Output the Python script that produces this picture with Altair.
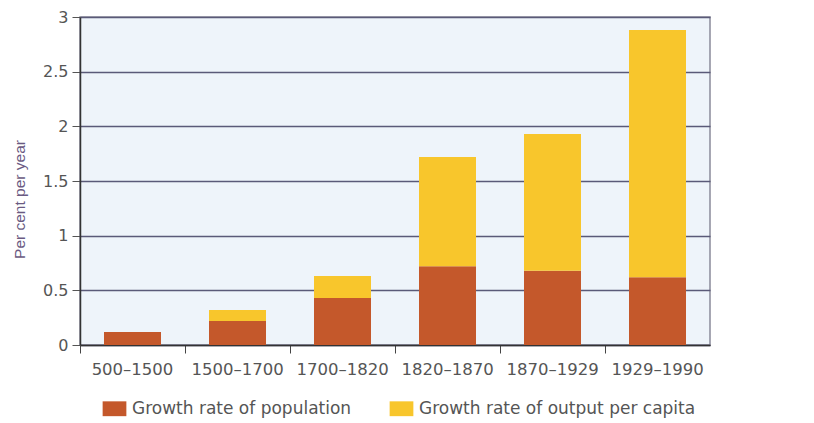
import altair as alt
import pandas as pd

periods = ["500–1500", "1500–1700", "1700–1820", "1820–1870", "1870–1929", "1929–1990"]
population = [0.12, 0.22, 0.43, 0.72, 0.68, 0.62]
output_pc = [0.0, 0.10, 0.20, 1.00, 1.25, 2.26]
series = ["Growth rate of population", "Growth rate of output per capita"]
colors = ["#C4582B", "#F8C62C"]

rows = []
for p, a, b in zip(periods, population, output_pc):
    rows.append({"period": p, "series": series[0], "value": a, "ord": 0})
    rows.append({"period": p, "series": series[1], "value": b, "ord": 1})
df = pd.DataFrame(rows)

FONT = "DejaVu Sans"
TFONT = "Liberation Sans"

chart = alt.Chart(df).mark_bar(size=57).encode(
    x=alt.X("period:N", sort=periods, title=None,
            scale=alt.Scale(paddingInner=0, paddingOuter=0),
            axis=alt.Axis(labelAngle=0, bandPosition=0, tickSize=8, tickColor="#444",
                          domainColor="#333", domainWidth=1.5, labelFontSize=16.5,
                          labelColor="#555", labelFont=FONT, labelPadding=8, grid=False)),
    y=alt.Y("value:Q", stack="zero", title="Per cent per year",
            scale=alt.Scale(domain=[0, 3], nice=False),
            axis=alt.Axis(values=[0, 0.5, 1, 1.5, 2, 2.5, 3], format="~g",
                          tickSize=8, tickColor="#555",
                          domainColor="#333", domainWidth=1.5, labelFontSize=16,
                          labelColor="#555", labelFont=FONT, labelPadding=4,
                          gridColor="#5A5A78", gridWidth=1.5, gridOpacity=1,
                          titleFont=TFONT, titleFontSize=15.5, titleFontWeight="normal",
                          titleColor="#6A5A82", titlePadding=15, titleY=199 - 17)),
    color=alt.Color("series:N", scale=alt.Scale(domain=series, range=colors),
                    legend=alt.Legend(title=None, orient="none", legendX=26, legendY=383,
                                      direction="horizontal", columns=2,
                                      symbolType="M-1.6,-1H1.6V1H-1.6Z", symbolSize=220,
                                      symbolStrokeWidth=0, symbolOpacity=1,
                                      labelFont=FONT, labelFontSize=17, labelColor="#555",
                                      labelOffset=9, columnPadding=37, labelLimit=500)),
    order=alt.Order("ord:Q"),
).properties(
    width=630, height=328,
    autosize=alt.AutoSizeParams(type="none"),
    padding={"left": 72, "top": 9, "right": 96, "bottom": 78},
).configure_view(
    fill="#EEF4FA", stroke="#8A8A9A", strokeWidth=1.5
).configure_axis(labelFlush=False)

chart.save("out.html", embed_options={"renderer": "svg", "actions": False})
